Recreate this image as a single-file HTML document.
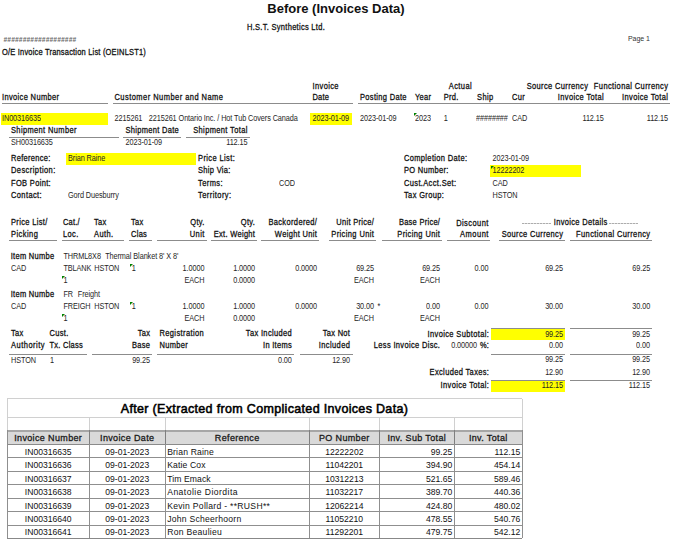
<!DOCTYPE html>
<html><head><meta charset="utf-8"><style>
html,body{margin:0;padding:0;background:#fff;width:680px;height:547px;overflow:hidden;position:relative;font-family:"Liberation Sans",sans-serif;}
.t{position:absolute;white-space:nowrap;line-height:1;}
.s{transform:scaleY(1.12);transform-origin:0 6px;}
.b{position:absolute;}
.g{position:absolute;width:0;height:0;border-top:3.8px solid #008000;border-right:3.8px solid transparent;}
</style></head><body>
<div class="t" style="left:267.30px;top:1.90px;font-size:13px;font-weight:bold;color:#111;">Before (Invoices Data)</div>
<div class="t s" style="left:247.00px;top:24.00px;font-size:7.5px;letter-spacing:0.287px;-webkit-text-stroke:0.25px #111111;color:#111111;">H.S.T. Synthetics Ltd.</div>
<div class="t s" style="left:3.50px;top:37.00px;font-size:6.5px;font-weight:bold;letter-spacing:0.22px;color:#666;font-style:italic;">###################</div>
<div class="t s" style="left:2.00px;top:49.00px;font-size:7.5px;letter-spacing:0.188px;-webkit-text-stroke:0.25px #111111;color:#111111;">O/E Invoice Transaction List (OEINLST1)</div>
<div class="t s" style="left:628.00px;top:35.00px;font-size:7px;letter-spacing:-0.08px;color:#333;">Page 1</div>
<div class="t s" style="left:312.50px;top:83.00px;font-size:7.5px;letter-spacing:0.377px;-webkit-text-stroke:0.25px #111111;color:#111111;">Invoice</div>
<div class="t s" style="left:448.75px;top:83.00px;font-size:7.5px;letter-spacing:0.426px;-webkit-text-stroke:0.25px #111111;color:#111111;">Actual</div>
<div class="t s" style="right:91.72px;top:83.00px;font-size:7.5px;letter-spacing:0.358px;-webkit-text-stroke:0.25px #111111;color:#111111;">Source Currency</div>
<div class="t s" style="right:11.69px;top:83.00px;font-size:7.5px;letter-spacing:0.386px;-webkit-text-stroke:0.25px #111111;color:#111111;">Functional Currency</div>
<div class="t s" style="left:2.00px;top:94.00px;font-size:7.5px;letter-spacing:0.347px;-webkit-text-stroke:0.25px #111111;color:#111111;">Invoice Number</div>
<div class="t s" style="left:114.50px;top:94.00px;font-size:7.5px;letter-spacing:0.455px;-webkit-text-stroke:0.25px #111111;color:#111111;">Customer Number and Name</div>
<div class="t s" style="left:312.50px;top:94.00px;font-size:7.5px;letter-spacing:0.183px;-webkit-text-stroke:0.25px #111111;color:#111111;">Date</div>
<div class="t s" style="left:360.00px;top:94.00px;font-size:7.5px;letter-spacing:0.321px;-webkit-text-stroke:0.25px #111111;color:#111111;">Posting Date</div>
<div class="t s" style="left:415.00px;top:94.00px;font-size:7.5px;letter-spacing:0.254px;-webkit-text-stroke:0.25px #111111;color:#111111;">Year</div>
<div class="t s" style="left:443.75px;top:94.00px;font-size:7.5px;letter-spacing:0.288px;-webkit-text-stroke:0.25px #111111;color:#111111;">Prd.</div>
<div class="t s" style="left:477.00px;top:94.00px;font-size:7.5px;letter-spacing:0.389px;-webkit-text-stroke:0.25px #111111;color:#111111;">Ship</div>
<div class="t s" style="left:512.00px;top:94.00px;font-size:7.5px;letter-spacing:0.357px;-webkit-text-stroke:0.25px #111111;color:#111111;">Cur</div>
<div class="t s" style="right:75.97px;top:94.00px;font-size:7.5px;letter-spacing:0.357px;-webkit-text-stroke:0.25px #111111;color:#111111;">Invoice Total</div>
<div class="t s" style="right:11.72px;top:94.00px;font-size:7.5px;letter-spacing:0.357px;-webkit-text-stroke:0.25px #111111;color:#111111;">Invoice Total</div>
<div class="b" style="left:2.00px;top:102.75px;width:105.50px;height:1.00px;background:#8c8c8c"></div>
<div class="b" style="left:112.50px;top:102.75px;width:240.50px;height:1.00px;background:#8c8c8c"></div>
<div class="b" style="left:358.00px;top:102.75px;width:312.00px;height:1.00px;background:#8c8c8c"></div>
<div class="b" style="left:1.00px;top:112.50px;width:106.50px;height:12.00px;background:#ffff00"></div>
<div class="b" style="left:310.00px;top:112.50px;width:42.00px;height:12.00px;background:#ffff00"></div>
<div class="t s" style="left:2.00px;top:115.00px;font-size:7.3px;letter-spacing:-0.08px;color:#262626;">IN00316635</div>
<div class="t s" style="left:114.50px;top:115.00px;font-size:7.3px;letter-spacing:-0.08px;color:#262626;">2215261</div>
<div class="t s" style="left:148.75px;top:115.00px;font-size:7.3px;letter-spacing:-0.08px;color:#262626;">2215261 Ontario Inc. / Hot Tub Covers Canada</div>
<div class="t s" style="left:312.50px;top:115.00px;font-size:7.3px;letter-spacing:-0.08px;color:#262626;">2023-01-09</div>
<div class="t s" style="left:360.00px;top:115.00px;font-size:7.3px;letter-spacing:-0.08px;color:#262626;">2023-01-09</div>
<div class="g" style="left:413.60px;top:112.80px"></div>
<div class="t s" style="left:415.00px;top:115.00px;font-size:7.3px;letter-spacing:-0.08px;color:#262626;">2023</div>
<div class="t s" style="left:443.75px;top:115.00px;font-size:7.3px;letter-spacing:-0.08px;color:#262626;">1</div>
<div class="t s" style="left:476.00px;top:115.00px;font-size:7.3px;letter-spacing:-0.08px;color:#262626;">########</div>
<div class="t s" style="left:512.00px;top:115.00px;font-size:7.3px;letter-spacing:-0.08px;color:#262626;">CAD</div>
<div class="t s" style="right:76.25px;top:115.00px;font-size:7.3px;letter-spacing:-0.08px;color:#262626;">112.15</div>
<div class="t s" style="right:12.00px;top:115.00px;font-size:7.3px;letter-spacing:-0.08px;color:#262626;">112.15</div>
<div class="t s" style="left:11.00px;top:127.00px;font-size:7.5px;letter-spacing:0.356px;-webkit-text-stroke:0.25px #111111;color:#111111;">Shipment Number</div>
<div class="t s" style="left:125.50px;top:127.00px;font-size:7.5px;letter-spacing:0.303px;-webkit-text-stroke:0.25px #111111;color:#111111;">Shipment Date</div>
<div class="t s" style="right:432.21px;top:127.00px;font-size:7.5px;letter-spacing:0.366px;-webkit-text-stroke:0.25px #111111;color:#111111;">Shipment Total</div>
<div class="b" style="left:8.75px;top:136.50px;width:110.00px;height:1.00px;background:#8c8c8c"></div>
<div class="b" style="left:123.00px;top:136.50px;width:58.00px;height:1.00px;background:#8c8c8c"></div>
<div class="b" style="left:186.00px;top:136.50px;width:63.50px;height:1.00px;background:#8c8c8c"></div>
<div class="t s" style="left:11.00px;top:139.00px;font-size:7.3px;letter-spacing:-0.08px;color:#262626;">SH00316635</div>
<div class="t s" style="left:125.50px;top:139.00px;font-size:7.3px;letter-spacing:-0.08px;color:#262626;">2023-01-09</div>
<div class="t s" style="right:432.50px;top:139.00px;font-size:7.3px;letter-spacing:-0.08px;color:#262626;">112.15</div>
<div class="b" style="left:66.00px;top:153.00px;width:130.00px;height:12.00px;background:#ffff00"></div>
<div class="b" style="left:490.40px;top:165.00px;width:91.10px;height:12.40px;background:#ffff00"></div>
<div class="t s" style="left:11.00px;top:155.00px;font-size:7.5px;letter-spacing:0.288px;-webkit-text-stroke:0.25px #111111;color:#111111;">Reference:</div>
<div class="t s" style="left:11.00px;top:167.00px;font-size:7.5px;letter-spacing:0.426px;-webkit-text-stroke:0.25px #111111;color:#111111;">Description:</div>
<div class="t s" style="left:11.00px;top:180.00px;font-size:7.5px;letter-spacing:0.328px;-webkit-text-stroke:0.25px #111111;color:#111111;">FOB Point:</div>
<div class="t s" style="left:11.00px;top:192.00px;font-size:7.5px;letter-spacing:0.390px;-webkit-text-stroke:0.25px #111111;color:#111111;">Contact:</div>
<div class="t s" style="left:198.00px;top:155.00px;font-size:7.5px;letter-spacing:0.383px;-webkit-text-stroke:0.25px #111111;color:#111111;">Price List:</div>
<div class="t s" style="left:198.00px;top:167.00px;font-size:7.5px;letter-spacing:0.310px;-webkit-text-stroke:0.25px #111111;color:#111111;">Ship Via:</div>
<div class="t s" style="left:198.00px;top:180.00px;font-size:7.5px;letter-spacing:0.405px;-webkit-text-stroke:0.25px #111111;color:#111111;">Terms:</div>
<div class="t s" style="left:198.00px;top:192.00px;font-size:7.5px;letter-spacing:0.441px;-webkit-text-stroke:0.25px #111111;color:#111111;">Territory:</div>
<div class="t s" style="left:404.00px;top:155.00px;font-size:7.5px;letter-spacing:0.339px;-webkit-text-stroke:0.25px #111111;color:#111111;">Completion Date:</div>
<div class="t s" style="left:404.00px;top:167.00px;font-size:7.5px;letter-spacing:0.288px;-webkit-text-stroke:0.25px #111111;color:#111111;">PO Number:</div>
<div class="t s" style="left:404.00px;top:180.00px;font-size:7.5px;letter-spacing:0.347px;-webkit-text-stroke:0.25px #111111;color:#111111;">Cust.Acct.Set:</div>
<div class="t s" style="left:404.00px;top:192.00px;font-size:7.5px;letter-spacing:0.356px;-webkit-text-stroke:0.25px #111111;color:#111111;">Tax Group:</div>
<div class="t s" style="left:68.00px;top:155.00px;font-size:7.3px;letter-spacing:-0.08px;color:#262626;">Brian Raine</div>
<div class="t s" style="left:68.00px;top:192.00px;font-size:7.3px;letter-spacing:-0.08px;color:#262626;">Gord Duesburry</div>
<div class="t s" style="left:279.00px;top:180.00px;font-size:7.3px;letter-spacing:-0.08px;color:#262626;">COD</div>
<div class="t s" style="left:492.50px;top:155.00px;font-size:7.3px;letter-spacing:-0.08px;color:#262626;">2023-01-09</div>
<div class="g" style="left:491.00px;top:166.00px"></div>
<div class="t s" style="left:492.50px;top:167.00px;font-size:7.3px;letter-spacing:-0.08px;color:#262626;">12222202</div>
<div class="t s" style="left:492.50px;top:180.00px;font-size:7.3px;letter-spacing:-0.08px;color:#262626;">CAD</div>
<div class="t s" style="left:492.50px;top:192.00px;font-size:7.3px;letter-spacing:-0.08px;color:#262626;">HSTON</div>
<div class="t s" style="left:11.00px;top:219.00px;font-size:7.5px;letter-spacing:0.346px;-webkit-text-stroke:0.25px #111111;color:#111111;">Price List/</div>
<div class="t s" style="left:11.00px;top:231.00px;font-size:7.5px;letter-spacing:0.437px;-webkit-text-stroke:0.25px #111111;color:#111111;">Picking</div>
<div class="t s" style="left:63.00px;top:219.00px;font-size:7.5px;letter-spacing:0.163px;-webkit-text-stroke:0.25px #111111;color:#111111;">Cat./</div>
<div class="t s" style="left:63.00px;top:231.00px;font-size:7.5px;letter-spacing:0.390px;-webkit-text-stroke:0.25px #111111;color:#111111;">Loc.</div>
<div class="t s" style="left:94.00px;top:219.00px;font-size:7.5px;letter-spacing:0.312px;-webkit-text-stroke:0.25px #111111;color:#111111;">Tax</div>
<div class="t s" style="left:94.00px;top:231.00px;font-size:7.5px;letter-spacing:0.410px;-webkit-text-stroke:0.25px #111111;color:#111111;">Auth.</div>
<div class="t s" style="left:131.00px;top:219.00px;font-size:7.5px;letter-spacing:0.312px;-webkit-text-stroke:0.25px #111111;color:#111111;">Tax</div>
<div class="t s" style="left:131.00px;top:231.00px;font-size:7.5px;letter-spacing:0.290px;-webkit-text-stroke:0.25px #111111;color:#111111;">Clas</div>
<div class="t s" style="right:475.39px;top:219.00px;font-size:7.5px;letter-spacing:0.289px;-webkit-text-stroke:0.25px #111111;color:#111111;">Qty.</div>
<div class="t s" style="right:475.29px;top:231.00px;font-size:7.5px;letter-spacing:0.390px;-webkit-text-stroke:0.25px #111111;color:#111111;">Unit</div>
<div class="t s" style="right:424.79px;top:219.00px;font-size:7.5px;letter-spacing:0.289px;-webkit-text-stroke:0.25px #111111;color:#111111;">Qty.</div>
<div class="t s" style="right:424.77px;top:231.00px;font-size:7.5px;letter-spacing:0.306px;-webkit-text-stroke:0.25px #111111;color:#111111;">Ext. Weight</div>
<div class="t s" style="right:362.72px;top:219.00px;font-size:7.5px;letter-spacing:0.357px;-webkit-text-stroke:0.25px #111111;color:#111111;">Backordered/</div>
<div class="t s" style="right:362.74px;top:231.00px;font-size:7.5px;letter-spacing:0.343px;-webkit-text-stroke:0.25px #111111;color:#111111;">Weight Unit</div>
<div class="t s" style="right:305.77px;top:219.00px;font-size:7.5px;letter-spacing:0.307px;-webkit-text-stroke:0.25px #111111;color:#111111;">Unit Price/</div>
<div class="t s" style="right:305.69px;top:231.00px;font-size:7.5px;letter-spacing:0.392px;-webkit-text-stroke:0.25px #111111;color:#111111;">Pricing Unit</div>
<div class="t s" style="right:239.81px;top:219.00px;font-size:7.5px;letter-spacing:0.270px;-webkit-text-stroke:0.25px #111111;color:#111111;">Base Price/</div>
<div class="t s" style="right:239.69px;top:231.00px;font-size:7.5px;letter-spacing:0.392px;-webkit-text-stroke:0.25px #111111;color:#111111;">Pricing Unit</div>
<div class="t s" style="right:191.14px;top:220.00px;font-size:7.5px;letter-spacing:0.443px;-webkit-text-stroke:0.25px #111111;color:#111111;">Discount</div>
<div class="t s" style="right:191.09px;top:231.00px;font-size:7.5px;letter-spacing:0.493px;-webkit-text-stroke:0.25px #111111;color:#111111;">Amount</div>
<div class="t s" style="left:553.80px;top:219.00px;font-size:7.5px;letter-spacing:0.330px;-webkit-text-stroke:0.25px #111111;color:#111111;">Invoice Details</div>
<div class="b" style="left:522.30px;top:222.50px;width:29.00px;height:1.00px;background:repeating-linear-gradient(90deg,#adadad 0 2px,#dcdcdc 2px 3px)"></div>
<div class="b" style="left:609.00px;top:222.50px;width:29.30px;height:1.00px;background:repeating-linear-gradient(90deg,#adadad 0 2px,#dcdcdc 2px 3px)"></div>
<div class="t s" style="right:116.72px;top:231.00px;font-size:7.5px;letter-spacing:0.358px;-webkit-text-stroke:0.25px #111111;color:#111111;">Source Currency</div>
<div class="t s" style="right:29.49px;top:231.00px;font-size:7.5px;letter-spacing:0.386px;-webkit-text-stroke:0.25px #111111;color:#111111;">Functional Currency</div>
<div class="b" style="left:9.00px;top:239.50px;width:47.50px;height:1.00px;background:#8c8c8c"></div>
<div class="b" style="left:62.00px;top:239.50px;width:61.50px;height:1.00px;background:#8c8c8c"></div>
<div class="b" style="left:129.00px;top:239.50px;width:22.50px;height:1.00px;background:#8c8c8c"></div>
<div class="b" style="left:157.00px;top:239.50px;width:49.50px;height:1.00px;background:#8c8c8c"></div>
<div class="b" style="left:211.00px;top:239.50px;width:46.00px;height:1.00px;background:#8c8c8c"></div>
<div class="b" style="left:261.00px;top:239.50px;width:57.80px;height:1.00px;background:#8c8c8c"></div>
<div class="b" style="left:328.50px;top:239.50px;width:47.50px;height:1.00px;background:#8c8c8c"></div>
<div class="b" style="left:381.80px;top:239.50px;width:60.00px;height:1.00px;background:#8c8c8c"></div>
<div class="b" style="left:446.80px;top:239.50px;width:42.80px;height:1.00px;background:#8c8c8c"></div>
<div class="b" style="left:499.00px;top:239.50px;width:65.50px;height:1.00px;background:#8c8c8c"></div>
<div class="b" style="left:569.70px;top:239.50px;width:82.70px;height:1.00px;background:#8c8c8c"></div>
<div class="t s" style="left:10.70px;top:253.00px;font-size:7.5px;letter-spacing:0.288px;-webkit-text-stroke:0.25px #111111;color:#111111;">Item Numbe</div>
<div class="t s" style="left:63.40px;top:253.00px;font-size:7.3px;letter-spacing:-0.08px;color:#262626;">THRML8X8</div>
<div class="t s" style="left:105.20px;top:253.00px;font-size:7.3px;letter-spacing:-0.08px;color:#262626;">Thermal Blanket 8' X 8'</div>
<div class="t s" style="left:11.00px;top:265.00px;font-size:7.3px;letter-spacing:-0.08px;color:#262626;">CAD</div>
<div class="t s" style="left:63.40px;top:265.00px;font-size:7.3px;letter-spacing:-0.08px;color:#262626;">TBLANK</div>
<div class="t s" style="left:94.30px;top:265.00px;font-size:7.3px;letter-spacing:-0.08px;color:#262626;">HSTON</div>
<div class="g" style="left:130.00px;top:264.00px"></div>
<div class="t s" style="left:131.80px;top:265.00px;font-size:7.3px;letter-spacing:-0.08px;color:#262626;">1</div>
<div class="t s" style="right:475.60px;top:265.00px;font-size:7.3px;letter-spacing:-0.08px;color:#262626;">1.0000</div>
<div class="t s" style="right:425.00px;top:265.00px;font-size:7.3px;letter-spacing:-0.08px;color:#262626;">1.0000</div>
<div class="t s" style="right:363.00px;top:265.00px;font-size:7.3px;letter-spacing:-0.08px;color:#262626;">0.0000</div>
<div class="t s" style="right:306.00px;top:265.00px;font-size:7.3px;letter-spacing:-0.08px;color:#262626;">69.25</div>
<div class="t s" style="right:240.00px;top:265.00px;font-size:7.3px;letter-spacing:-0.08px;color:#262626;">69.25</div>
<div class="t s" style="right:191.50px;top:265.00px;font-size:7.3px;letter-spacing:-0.08px;color:#262626;">0.00</div>
<div class="t s" style="right:117.00px;top:265.00px;font-size:7.3px;letter-spacing:-0.08px;color:#262626;">69.25</div>
<div class="t s" style="right:29.80px;top:265.00px;font-size:7.3px;letter-spacing:-0.08px;color:#262626;">69.25</div>
<div class="g" style="left:61.80px;top:276.00px"></div>
<div class="t s" style="left:63.60px;top:277.00px;font-size:7.3px;letter-spacing:-0.08px;color:#262626;">1</div>
<div class="t s" style="right:475.60px;top:277.00px;font-size:7.3px;letter-spacing:-0.08px;color:#262626;">EACH</div>
<div class="t s" style="right:425.00px;top:277.00px;font-size:7.3px;letter-spacing:-0.08px;color:#262626;">0.0000</div>
<div class="t s" style="right:306.00px;top:277.00px;font-size:7.3px;letter-spacing:-0.08px;color:#262626;">EACH</div>
<div class="t s" style="right:240.00px;top:277.00px;font-size:7.3px;letter-spacing:-0.08px;color:#262626;">EACH</div>
<div class="t s" style="left:10.70px;top:291.00px;font-size:7.5px;letter-spacing:0.288px;-webkit-text-stroke:0.25px #111111;color:#111111;">Item Numbe</div>
<div class="t s" style="left:63.40px;top:291.00px;font-size:7.3px;letter-spacing:-0.08px;color:#262626;">FR</div>
<div class="t s" style="left:77.80px;top:291.00px;font-size:7.3px;letter-spacing:-0.08px;color:#262626;">Freight</div>
<div class="t s" style="left:11.00px;top:303.00px;font-size:7.3px;letter-spacing:-0.08px;color:#262626;">CAD</div>
<div class="t s" style="left:63.40px;top:303.00px;font-size:7.3px;letter-spacing:-0.08px;color:#262626;">FREIGH</div>
<div class="t s" style="left:94.30px;top:303.00px;font-size:7.3px;letter-spacing:-0.08px;color:#262626;">HSTON</div>
<div class="g" style="left:130.00px;top:301.90px"></div>
<div class="t s" style="left:131.80px;top:303.00px;font-size:7.3px;letter-spacing:-0.08px;color:#262626;">1</div>
<div class="t s" style="right:475.60px;top:303.00px;font-size:7.3px;letter-spacing:-0.08px;color:#262626;">1.0000</div>
<div class="t s" style="right:425.00px;top:303.00px;font-size:7.3px;letter-spacing:-0.08px;color:#262626;">1.0000</div>
<div class="t s" style="right:363.00px;top:303.00px;font-size:7.3px;letter-spacing:-0.08px;color:#262626;">0.0000</div>
<div class="t s" style="right:306.00px;top:303.00px;font-size:7.3px;letter-spacing:-0.08px;color:#262626;">30.00</div>
<div class="t s" style="left:377.50px;top:303.00px;font-size:7.3px;letter-spacing:-0.08px;color:#262626;">*</div>
<div class="t s" style="right:240.00px;top:303.00px;font-size:7.3px;letter-spacing:-0.08px;color:#262626;">0.00</div>
<div class="t s" style="right:191.50px;top:303.00px;font-size:7.3px;letter-spacing:-0.08px;color:#262626;">0.00</div>
<div class="t s" style="right:117.00px;top:303.00px;font-size:7.3px;letter-spacing:-0.08px;color:#262626;">30.00</div>
<div class="t s" style="right:29.80px;top:303.00px;font-size:7.3px;letter-spacing:-0.08px;color:#262626;">30.00</div>
<div class="g" style="left:61.80px;top:313.90px"></div>
<div class="t s" style="left:63.60px;top:315.00px;font-size:7.3px;letter-spacing:-0.08px;color:#262626;">1</div>
<div class="t s" style="right:475.60px;top:315.00px;font-size:7.3px;letter-spacing:-0.08px;color:#262626;">EACH</div>
<div class="t s" style="right:425.00px;top:315.00px;font-size:7.3px;letter-spacing:-0.08px;color:#262626;">0.0000</div>
<div class="t s" style="right:306.00px;top:315.00px;font-size:7.3px;letter-spacing:-0.08px;color:#262626;">EACH</div>
<div class="t s" style="right:240.00px;top:315.00px;font-size:7.3px;letter-spacing:-0.08px;color:#262626;">EACH</div>
<div class="t s" style="left:11.00px;top:330.00px;font-size:7.5px;letter-spacing:0.312px;-webkit-text-stroke:0.25px #111111;color:#111111;">Tax</div>
<div class="t s" style="left:11.00px;top:342.00px;font-size:7.5px;letter-spacing:0.495px;-webkit-text-stroke:0.25px #111111;color:#111111;">Authority</div>
<div class="t s" style="left:49.40px;top:330.00px;font-size:7.5px;letter-spacing:0.329px;-webkit-text-stroke:0.25px #111111;color:#111111;">Cust.</div>
<div class="t s" style="left:49.40px;top:342.00px;font-size:7.5px;letter-spacing:0.267px;-webkit-text-stroke:0.25px #111111;color:#111111;">Tx. Class</div>
<div class="t s" style="right:529.77px;top:330.00px;font-size:7.5px;letter-spacing:0.312px;-webkit-text-stroke:0.25px #111111;color:#111111;">Tax</div>
<div class="t s" style="right:529.79px;top:342.00px;font-size:7.5px;letter-spacing:0.289px;-webkit-text-stroke:0.25px #111111;color:#111111;">Base</div>
<div class="t s" style="left:159.40px;top:330.00px;font-size:7.5px;letter-spacing:0.391px;-webkit-text-stroke:0.25px #111111;color:#111111;">Registration</div>
<div class="t s" style="left:159.40px;top:342.00px;font-size:7.5px;letter-spacing:0.357px;-webkit-text-stroke:0.25px #111111;color:#111111;">Number</div>
<div class="t s" style="right:387.94px;top:330.00px;font-size:7.5px;letter-spacing:0.345px;-webkit-text-stroke:0.25px #111111;color:#111111;">Tax Included</div>
<div class="t s" style="right:387.99px;top:342.00px;font-size:7.5px;letter-spacing:0.288px;-webkit-text-stroke:0.25px #111111;color:#111111;">In Items</div>
<div class="t s" style="right:329.78px;top:330.00px;font-size:7.5px;letter-spacing:0.297px;-webkit-text-stroke:0.25px #111111;color:#111111;">Tax Not</div>
<div class="t s" style="right:329.69px;top:342.00px;font-size:7.5px;letter-spacing:0.390px;-webkit-text-stroke:0.25px #111111;color:#111111;">Included</div>
<div class="b" style="left:9.00px;top:353.90px;width:78.00px;height:1.00px;background:#8c8c8c"></div>
<div class="b" style="left:92.00px;top:353.90px;width:60.00px;height:1.00px;background:#8c8c8c"></div>
<div class="b" style="left:157.00px;top:353.90px;width:136.80px;height:1.00px;background:#8c8c8c"></div>
<div class="b" style="left:300.00px;top:353.90px;width:52.60px;height:1.00px;background:#8c8c8c"></div>
<div class="t s" style="left:11.00px;top:357.00px;font-size:7.3px;letter-spacing:-0.08px;color:#262626;">HSTON</div>
<div class="t s" style="left:50.00px;top:357.00px;font-size:7.3px;letter-spacing:-0.08px;color:#262626;">1</div>
<div class="t s" style="right:530.00px;top:357.00px;font-size:7.3px;letter-spacing:-0.08px;color:#262626;">99.25</div>
<div class="t s" style="right:388.20px;top:357.00px;font-size:7.3px;letter-spacing:-0.08px;color:#262626;">0.00</div>
<div class="t s" style="right:330.00px;top:357.00px;font-size:7.3px;letter-spacing:-0.08px;color:#262626;">12.90</div>
<div class="b" style="left:490.60px;top:328.70px;width:74.10px;height:11.30px;background:#ffff00"></div>
<div class="b" style="left:490.60px;top:380.70px;width:74.10px;height:11.10px;background:#ffff00"></div>
<div class="b" style="left:570.00px;top:328.20px;width:82.00px;height:1.00px;background:#8c8c8c"></div>
<div class="b" style="left:490.60px;top:328.20px;width:74.10px;height:1.00px;background:#8c8c8c"></div>
<div class="t s" style="right:190.71px;top:331.00px;font-size:7.5px;letter-spacing:0.372px;-webkit-text-stroke:0.25px #111111;color:#111111;">Invoice Subtotal:</div>
<div class="t s" style="right:117.00px;top:331.00px;font-size:7.3px;letter-spacing:-0.08px;color:#262626;">99.25</div>
<div class="t s" style="right:30.00px;top:331.00px;font-size:7.3px;letter-spacing:-0.08px;color:#262626;">99.25</div>
<div class="t s" style="right:239.74px;top:342.00px;font-size:7.5px;letter-spacing:0.335px;-webkit-text-stroke:0.25px #111111;color:#111111;">Less Invoice Disc.</div>
<div class="t s" style="right:203.00px;top:342.00px;font-size:7.3px;letter-spacing:-0.08px;color:#262626;">0.00000</div>
<div class="t s" style="right:190.79px;top:342.00px;font-size:7.5px;letter-spacing:0.287px;-webkit-text-stroke:0.25px #111111;color:#111111;">%:</div>
<div class="t s" style="right:117.00px;top:342.00px;font-size:7.3px;letter-spacing:-0.08px;color:#262626;">0.00</div>
<div class="t s" style="right:30.00px;top:342.00px;font-size:7.3px;letter-spacing:-0.08px;color:#262626;">0.00</div>
<div class="b" style="left:490.60px;top:354.10px;width:74.10px;height:1.00px;background:#8c8c8c"></div>
<div class="b" style="left:570.00px;top:354.10px;width:82.00px;height:1.00px;background:#8c8c8c"></div>
<div class="t s" style="right:117.00px;top:356.00px;font-size:7.3px;letter-spacing:-0.08px;color:#262626;">99.25</div>
<div class="t s" style="right:30.00px;top:356.00px;font-size:7.3px;letter-spacing:-0.08px;color:#262626;">99.25</div>
<div class="t s" style="right:190.73px;top:369.00px;font-size:7.5px;letter-spacing:0.348px;-webkit-text-stroke:0.25px #111111;color:#111111;">Excluded Taxes:</div>
<div class="t s" style="right:117.00px;top:369.00px;font-size:7.3px;letter-spacing:-0.08px;color:#262626;">12.90</div>
<div class="t s" style="right:30.00px;top:369.00px;font-size:7.3px;letter-spacing:-0.08px;color:#262626;">12.90</div>
<div class="b" style="left:490.60px;top:380.00px;width:74.10px;height:1.00px;background:#8c8c8c"></div>
<div class="b" style="left:570.00px;top:380.00px;width:82.00px;height:1.00px;background:#8c8c8c"></div>
<div class="t s" style="right:190.71px;top:382.00px;font-size:7.5px;letter-spacing:0.366px;-webkit-text-stroke:0.25px #111111;color:#111111;">Invoice Total:</div>
<div class="t s" style="right:117.00px;top:382.00px;font-size:7.3px;letter-spacing:-0.08px;color:#262626;">112.15</div>
<div class="t s" style="right:30.00px;top:382.00px;font-size:7.3px;letter-spacing:-0.08px;color:#262626;">112.15</div>
<div class="b" style="left:7.00px;top:430.40px;width:515.40px;height:14.00px;background:#d9d9d9"></div>
<div class="b" style="left:7.00px;top:398.10px;width:515.40px;height:1.00px;background:#d0d0d0"></div>
<div class="b" style="left:7.00px;top:417.00px;width:515.40px;height:1.00px;background:#d0d0d0"></div>
<div class="b" style="left:7.00px;top:430.10px;width:515.40px;height:1.60px;background:#a6a6a6"></div>
<div class="b" style="left:7.00px;top:443.80px;width:515.40px;height:1.20px;background:#8a8a8a"></div>
<div class="b" style="left:7.00px;top:457.34px;width:515.40px;height:1.00px;background:#8f8f8f"></div>
<div class="b" style="left:7.00px;top:470.79px;width:515.40px;height:1.00px;background:#8f8f8f"></div>
<div class="b" style="left:7.00px;top:484.23px;width:515.40px;height:1.00px;background:#8f8f8f"></div>
<div class="b" style="left:7.00px;top:497.67px;width:515.40px;height:1.00px;background:#8f8f8f"></div>
<div class="b" style="left:7.00px;top:511.11px;width:515.40px;height:1.00px;background:#8f8f8f"></div>
<div class="b" style="left:7.00px;top:524.56px;width:515.40px;height:1.00px;background:#8f8f8f"></div>
<div class="b" style="left:7.00px;top:538.00px;width:515.40px;height:1.00px;background:#888"></div>
<div class="b" style="left:6.50px;top:398.60px;width:1.00px;height:139.90px;background:#d0d0d0"></div>
<div class="b" style="left:521.90px;top:398.60px;width:1.00px;height:139.90px;background:#d0d0d0"></div>
<div class="b" style="left:88.90px;top:417.50px;width:1.00px;height:12.90px;background:#d0d0d0"></div>
<div class="b" style="left:88.90px;top:430.40px;width:1.00px;height:14.00px;background:#7f7f7f"></div>
<div class="b" style="left:88.90px;top:444.40px;width:1.00px;height:94.10px;background:#8f8f8f"></div>
<div class="b" style="left:164.50px;top:417.50px;width:1.00px;height:12.90px;background:#d0d0d0"></div>
<div class="b" style="left:164.50px;top:430.40px;width:1.00px;height:14.00px;background:#7f7f7f"></div>
<div class="b" style="left:164.50px;top:444.40px;width:1.00px;height:94.10px;background:#8f8f8f"></div>
<div class="b" style="left:308.90px;top:417.50px;width:1.00px;height:12.90px;background:#d0d0d0"></div>
<div class="b" style="left:308.90px;top:430.40px;width:1.00px;height:14.00px;background:#7f7f7f"></div>
<div class="b" style="left:308.90px;top:444.40px;width:1.00px;height:94.10px;background:#8f8f8f"></div>
<div class="b" style="left:378.80px;top:417.50px;width:1.00px;height:12.90px;background:#d0d0d0"></div>
<div class="b" style="left:378.80px;top:430.40px;width:1.00px;height:14.00px;background:#7f7f7f"></div>
<div class="b" style="left:378.80px;top:444.40px;width:1.00px;height:94.10px;background:#8f8f8f"></div>
<div class="b" style="left:453.70px;top:417.50px;width:1.00px;height:12.90px;background:#d0d0d0"></div>
<div class="b" style="left:453.70px;top:430.40px;width:1.00px;height:14.00px;background:#7f7f7f"></div>
<div class="b" style="left:453.70px;top:444.40px;width:1.00px;height:94.10px;background:#8f8f8f"></div>
<div class="b" style="left:6.50px;top:430.40px;width:1.00px;height:108.10px;background:#8f8f8f"></div>
<div class="b" style="left:521.90px;top:430.40px;width:1.00px;height:108.10px;background:#8f8f8f"></div>

<div class="t" style="left:64.50px;width:400px;text-align:center;top:403.12px;font-size:12.5px;letter-spacing:0.33px;color:#000;-webkit-text-stroke:0.55px #000;">After (Extracted from Complicated Invoices Data)</div>
<div class="t" style="left:-151.80px;width:400px;text-align:center;top:433.98px;font-size:9px;letter-spacing:0.36px;color:#1a1a1a;-webkit-text-stroke:0.3px #1a1a1a;">Invoice Number</div>
<div class="t" style="left:-72.80px;width:400px;text-align:center;top:433.98px;font-size:9px;letter-spacing:0.36px;color:#1a1a1a;-webkit-text-stroke:0.3px #1a1a1a;">Invoice Date</div>
<div class="t" style="left:37.20px;width:400px;text-align:center;top:433.98px;font-size:9px;letter-spacing:0.36px;color:#1a1a1a;-webkit-text-stroke:0.3px #1a1a1a;">Reference</div>
<div class="t" style="left:144.35px;width:400px;text-align:center;top:433.98px;font-size:9px;letter-spacing:0.36px;color:#1a1a1a;-webkit-text-stroke:0.3px #1a1a1a;">PO Number</div>
<div class="t" style="left:216.75px;width:400px;text-align:center;top:433.98px;font-size:9px;letter-spacing:0.36px;color:#1a1a1a;-webkit-text-stroke:0.3px #1a1a1a;">Inv. Sub Total</div>
<div class="t" style="left:288.30px;width:400px;text-align:center;top:433.98px;font-size:9px;letter-spacing:0.36px;color:#1a1a1a;-webkit-text-stroke:0.3px #1a1a1a;">Inv. Total</div>
<div class="t" style="left:-151.80px;width:400px;text-align:center;top:447.76px;font-size:8.6px;color:#111;">IN00316635</div>
<div class="t" style="left:-72.80px;width:400px;text-align:center;top:447.76px;font-size:8.6px;color:#111;">09-01-2023</div>
<div class="t" style="left:167.20px;top:447.76px;font-size:8.6px;letter-spacing:0.17px;color:#111;">Brian Raine</div>
<div class="t" style="left:144.35px;width:400px;text-align:center;top:447.76px;font-size:8.6px;color:#111;">12222202</div>
<div class="t" style="right:227.80px;top:447.76px;font-size:8.6px;color:#111;">99.25</div>
<div class="t" style="right:159.80px;top:447.76px;font-size:8.6px;color:#111;">112.15</div>
<div class="t" style="left:-151.80px;width:400px;text-align:center;top:461.21px;font-size:8.6px;color:#111;">IN00316636</div>
<div class="t" style="left:-72.80px;width:400px;text-align:center;top:461.21px;font-size:8.6px;color:#111;">09-01-2023</div>
<div class="t" style="left:167.20px;top:461.21px;font-size:8.6px;letter-spacing:0.13px;color:#111;">Katie Cox</div>
<div class="t" style="left:144.35px;width:400px;text-align:center;top:461.21px;font-size:8.6px;color:#111;">11042201</div>
<div class="t" style="right:227.80px;top:461.21px;font-size:8.6px;color:#111;">394.90</div>
<div class="t" style="right:159.80px;top:461.21px;font-size:8.6px;color:#111;">454.14</div>
<div class="t" style="left:-151.80px;width:400px;text-align:center;top:474.65px;font-size:8.6px;color:#111;">IN00316637</div>
<div class="t" style="left:-72.80px;width:400px;text-align:center;top:474.65px;font-size:8.6px;color:#111;">09-01-2023</div>
<div class="t" style="left:167.20px;top:474.65px;font-size:8.6px;letter-spacing:0.1px;color:#111;">Tim Emack</div>
<div class="t" style="left:144.35px;width:400px;text-align:center;top:474.65px;font-size:8.6px;color:#111;">10312213</div>
<div class="t" style="right:227.80px;top:474.65px;font-size:8.6px;color:#111;">521.65</div>
<div class="t" style="right:159.80px;top:474.65px;font-size:8.6px;color:#111;">589.46</div>
<div class="t" style="left:-151.80px;width:400px;text-align:center;top:488.09px;font-size:8.6px;color:#111;">IN00316638</div>
<div class="t" style="left:-72.80px;width:400px;text-align:center;top:488.09px;font-size:8.6px;color:#111;">09-01-2023</div>
<div class="t" style="left:167.20px;top:488.09px;font-size:8.6px;letter-spacing:0.46px;color:#111;">Anatolie Diordita</div>
<div class="t" style="left:144.35px;width:400px;text-align:center;top:488.09px;font-size:8.6px;color:#111;">11032217</div>
<div class="t" style="right:227.80px;top:488.09px;font-size:8.6px;color:#111;">389.70</div>
<div class="t" style="right:159.80px;top:488.09px;font-size:8.6px;color:#111;">440.36</div>
<div class="t" style="left:-151.80px;width:400px;text-align:center;top:501.53px;font-size:8.6px;color:#111;">IN00316639</div>
<div class="t" style="left:-72.80px;width:400px;text-align:center;top:501.53px;font-size:8.6px;color:#111;">09-01-2023</div>
<div class="t" style="left:167.20px;top:501.53px;font-size:8.6px;letter-spacing:0.29px;color:#111;">Kevin Pollard - **RUSH**</div>
<div class="t" style="left:144.35px;width:400px;text-align:center;top:501.53px;font-size:8.6px;color:#111;">12062214</div>
<div class="t" style="right:227.80px;top:501.53px;font-size:8.6px;color:#111;">424.80</div>
<div class="t" style="right:159.80px;top:501.53px;font-size:8.6px;color:#111;">480.02</div>
<div class="t" style="left:-151.80px;width:400px;text-align:center;top:514.98px;font-size:8.6px;color:#111;">IN00316640</div>
<div class="t" style="left:-72.80px;width:400px;text-align:center;top:514.98px;font-size:8.6px;color:#111;">09-01-2023</div>
<div class="t" style="left:167.20px;top:514.98px;font-size:8.6px;letter-spacing:0.25px;color:#111;">John Scheerhoorn</div>
<div class="t" style="left:144.35px;width:400px;text-align:center;top:514.98px;font-size:8.6px;color:#111;">11052210</div>
<div class="t" style="right:227.80px;top:514.98px;font-size:8.6px;color:#111;">478.55</div>
<div class="t" style="right:159.80px;top:514.98px;font-size:8.6px;color:#111;">540.76</div>
<div class="t" style="left:-151.80px;width:400px;text-align:center;top:528.42px;font-size:8.6px;color:#111;">IN00316641</div>
<div class="t" style="left:-72.80px;width:400px;text-align:center;top:528.42px;font-size:8.6px;color:#111;">09-01-2023</div>
<div class="t" style="left:167.20px;top:528.42px;font-size:8.6px;letter-spacing:0.28px;color:#111;">Ron Beaulieu</div>
<div class="t" style="left:144.35px;width:400px;text-align:center;top:528.42px;font-size:8.6px;color:#111;">11292201</div>
<div class="t" style="right:227.80px;top:528.42px;font-size:8.6px;color:#111;">479.75</div>
<div class="t" style="right:159.80px;top:528.42px;font-size:8.6px;color:#111;">542.12</div>
</body></html>
